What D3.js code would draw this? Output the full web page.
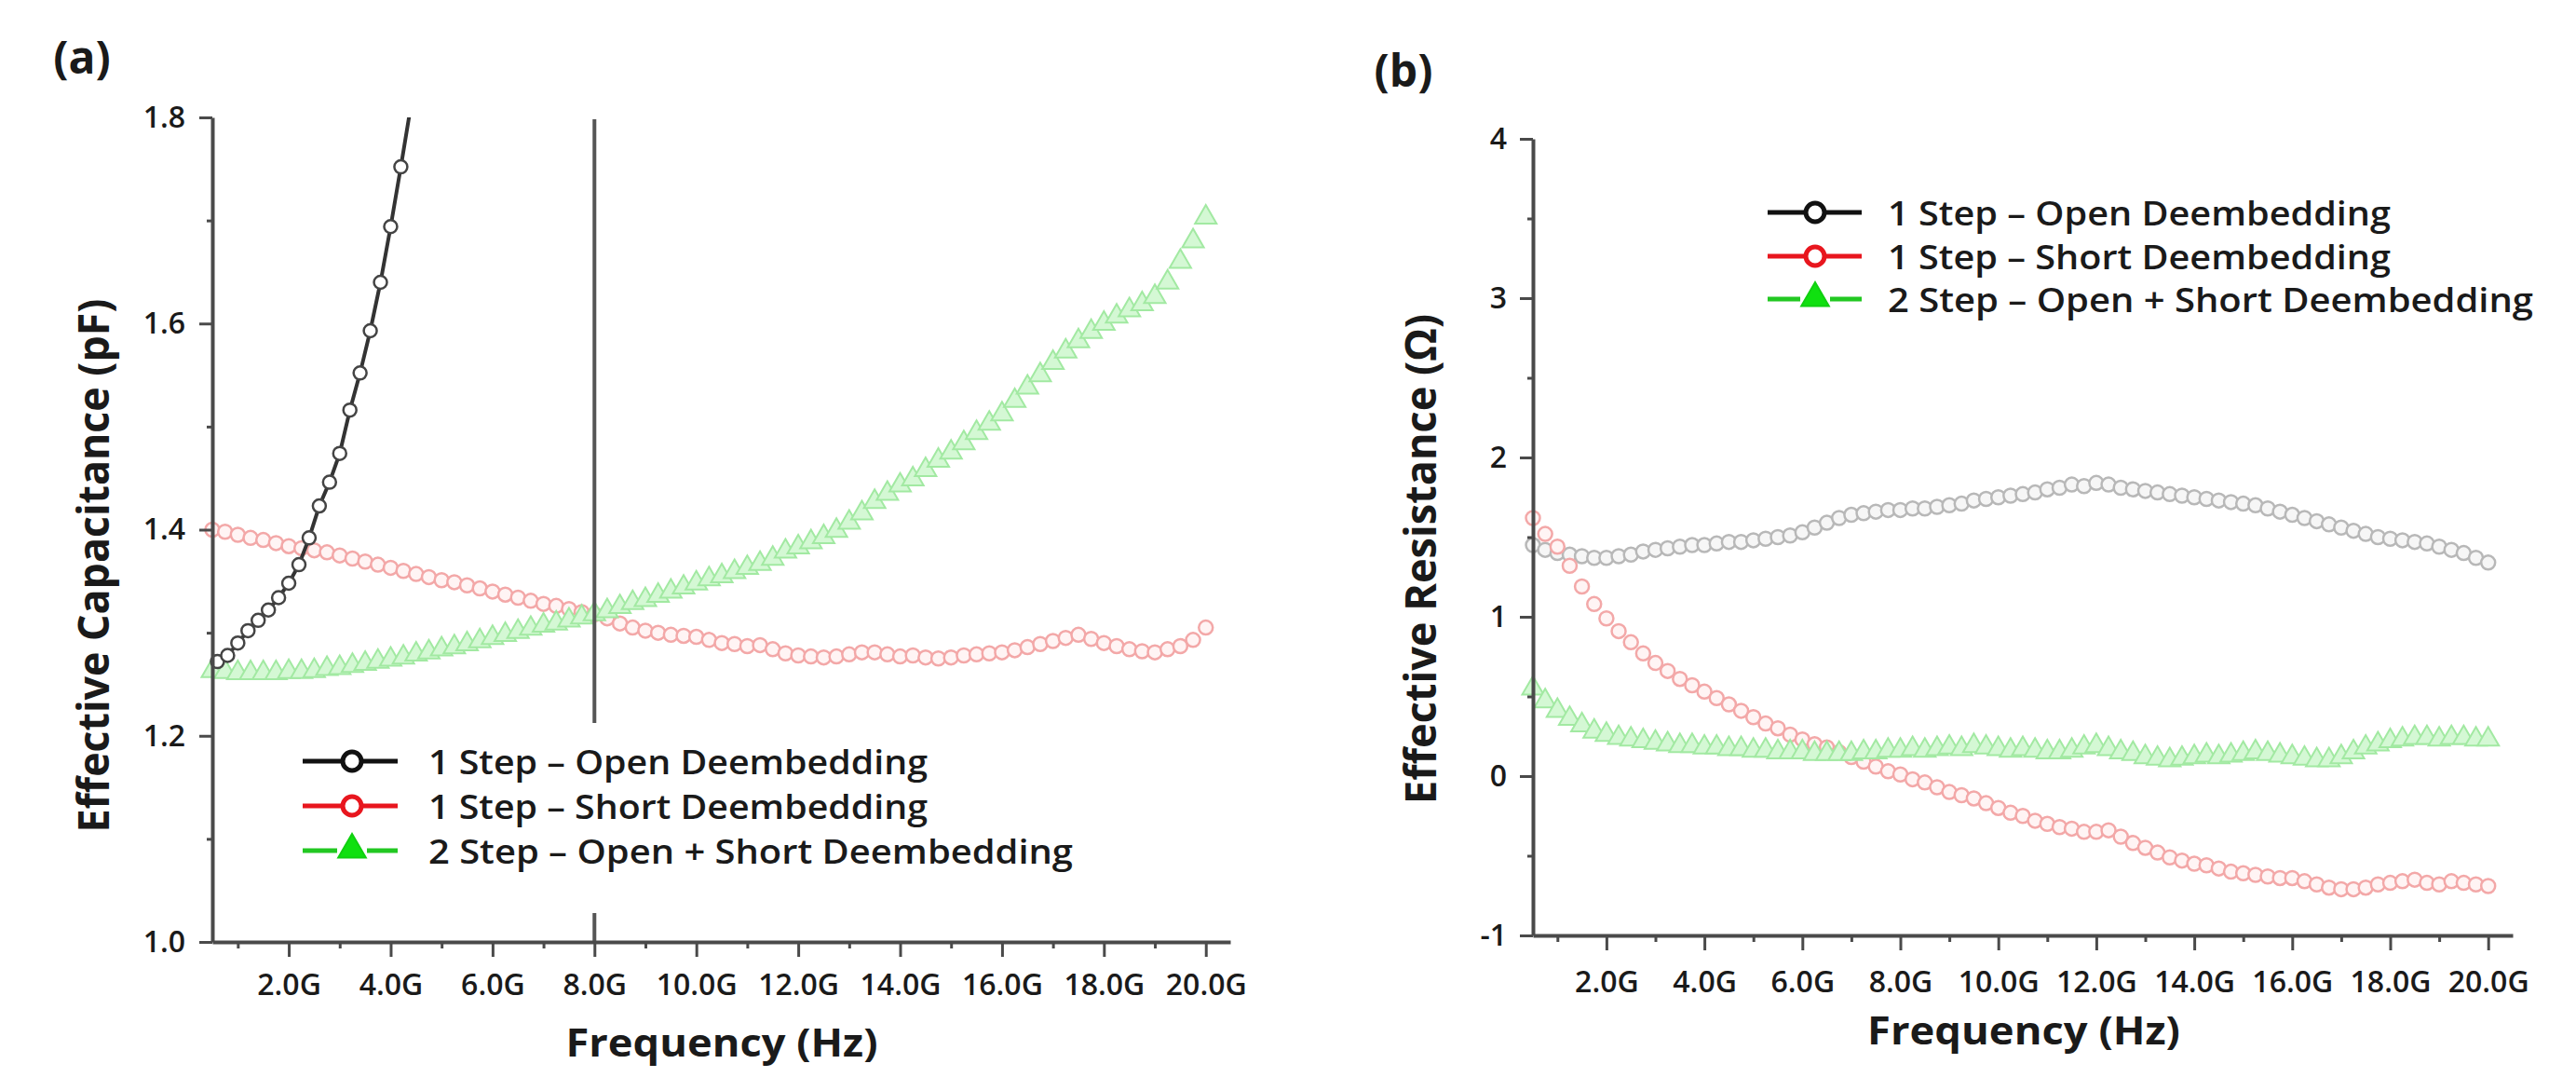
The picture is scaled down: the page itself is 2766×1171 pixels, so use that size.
<!DOCTYPE html>
<html><head><meta charset="utf-8">
<script src="https://cdn.jsdelivr.net/npm/d3@7"></script>
<style>
body{margin:0;background:#fff}
text{font-family:"Open Sans","DejaVu Sans",sans-serif;fill:#1a1a1a}
</style>
</head><body>
<svg id="c" width="2766" height="1171"></svg>
<script>
// ---------- DATA ----------
const freqGHz = [0.5,0.75,
 1,1.25,1.5,1.75, 2,2.25,2.5,2.75, 3,3.25,3.5,3.75, 4,4.25,4.5,4.75, 5,5.25,5.5,5.75,
 6,6.25,6.5,6.75, 7,7.25,7.5,7.75, 8,8.25,8.5,8.75, 9,9.25,9.5,9.75, 10,10.25,10.5,10.75,
 11,11.25,11.5,11.75, 12,12.25,12.5,12.75, 13,13.25,13.5,13.75, 14,14.25,14.5,14.75,
 15,15.25,15.5,15.75, 16,16.25,16.5,16.75, 17,17.25,17.5,17.75, 18,18.25,18.5,18.75,
 19,19.25,19.5,19.75, 20];

// (a) Effective capacitance (pF)
const openFreqA = [0.6,0.8,1.0,1.2,1.4,1.6,1.8,2.0,2.2,2.4,2.6,2.8,3.0,3.2,3.4,3.6,3.8,4.0,4.2,4.4];
const openCapA  = [1.272,1.278,1.290,1.302,1.312,1.322,1.334,1.348,1.366,1.392,1.423,1.446,1.474,1.516,1.552,1.593,1.640,1.694,1.752,1.812];
const shortCapA = [1.400,1.398,
 1.395,1.392,1.390,1.387, 1.384,1.382,1.380,1.378, 1.375,1.372,1.369,1.366, 1.363,1.360,1.357,1.354,
 1.351,1.349,1.346,1.343, 1.340,1.337,1.334,1.331, 1.328,1.326,1.323,1.320, 1.318,1.314,1.309,1.305,
 1.302,1.300,1.298,1.297, 1.296,1.293,1.290,1.289, 1.287,1.288,1.284,1.280, 1.278,1.277,1.276,1.277,
 1.279,1.281,1.281,1.279, 1.277,1.278,1.276,1.275, 1.276,1.278,1.279,1.280, 1.281,1.283,1.286,1.289,
 1.292,1.295,1.298,1.294, 1.290,1.287,1.284,1.282, 1.281,1.284,1.287,1.293, 1.305];
const openShortCapA = [1.263,1.262,
 1.261,1.261,1.261,1.261, 1.262,1.262,1.263,1.265, 1.266,1.268,1.270,1.272, 1.274,1.276,1.279,1.281,
 1.284,1.286,1.289,1.292, 1.295,1.298,1.301,1.304, 1.307,1.309,1.312,1.315, 1.318,1.321,1.325,1.329,
 1.332,1.336,1.340,1.344, 1.348,1.352,1.355,1.359, 1.363,1.367,1.372,1.379, 1.383,1.388,1.393,1.399,
 1.407,1.416,1.427,1.435, 1.443,1.449,1.458,1.467, 1.475,1.484,1.494,1.503, 1.512,1.525,1.538,1.550,
 1.562,1.573,1.583,1.592, 1.600,1.607,1.613,1.619, 1.626,1.640,1.660,1.680, 1.703];
const markerFreqA = [8.0];

// (b) Effective resistance (ohm)
const openResB = [1.45,1.42,
 1.40,1.39,1.38,1.37, 1.37,1.38,1.39,1.41, 1.42,1.43,1.44,1.45, 1.45,1.46,1.47,1.47,
 1.48,1.49,1.50,1.51, 1.53,1.56,1.59,1.62, 1.64,1.65,1.66,1.67, 1.67,1.68,1.68,1.69,
 1.70,1.71,1.73,1.74, 1.75,1.76,1.77,1.78, 1.80,1.81,1.83,1.82, 1.84,1.83,1.81,1.80,
 1.79,1.78,1.77,1.76, 1.75,1.74,1.73,1.72, 1.71,1.70,1.68,1.66, 1.64,1.62,1.60,1.58,
 1.56,1.54,1.52,1.50, 1.49,1.48,1.47,1.46, 1.44,1.42,1.40,1.37, 1.34];
const shortResB = [1.62,1.52,
 1.44,1.32,1.19,1.08, 0.99,0.91,0.84,0.77, 0.71,0.66,0.61,0.57, 0.53,0.49,0.45,0.41,
 0.37,0.33,0.30,0.26, 0.23,0.20,0.18,0.15, 0.12,0.09,0.06,0.03, 0.01,-0.02,-0.04,-0.07,
 -0.10,-0.12,-0.14,-0.17, -0.20,-0.23,-0.25,-0.28, -0.30,-0.32,-0.33,-0.35, -0.35,-0.34,-0.38,-0.42,
 -0.45,-0.48,-0.51,-0.53, -0.55,-0.56,-0.58,-0.60, -0.61,-0.62,-0.63,-0.64, -0.64,-0.66,-0.68,-0.70,
 -0.71,-0.71,-0.70,-0.68, -0.67,-0.66,-0.65,-0.67, -0.68,-0.66,-0.67,-0.68, -0.69];
const openShortResB = [0.55,0.47,
 0.41,0.36,0.32,0.28, 0.26,0.24,0.23,0.22, 0.21,0.20,0.19,0.19, 0.18,0.18,0.17,0.17,
 0.16,0.16,0.15,0.15, 0.15,0.14,0.14,0.14, 0.14,0.15,0.15,0.16, 0.16,0.17,0.16,0.17,
 0.18,0.17,0.19,0.18, 0.17,0.16,0.17,0.16, 0.15,0.15,0.16,0.18, 0.19,0.17,0.15,0.14,
 0.12,0.11,0.10,0.11, 0.12,0.13,0.12,0.13, 0.14,0.15,0.14,0.13, 0.12,0.11,0.10,0.10,
 0.12,0.15,0.18,0.20, 0.22,0.23,0.24,0.24, 0.23,0.24,0.24,0.23, 0.23];

// ticks & labels
const freqTicks = [2,4,6,8,10,12,14,16,18,20];
const freqTickLabels = ["2.0G","4.0G","6.0G","8.0G","10.0G","12.0G","14.0G","16.0G","18.0G","20.0G"];
const freqMinorTicks = [1,3,5,7,9,11,13,15,17,19];
const capTicks = [1.0,1.2,1.4,1.6,1.8];
const capTickLabels = ["1.0","1.2","1.4","1.6","1.8"];
const capMinorTicks = [1.1,1.3,1.5,1.7];
const resTicks = [-1,0,1,2,3,4];
const resTickLabels = ["-1","0","1","2","3","4"];
const resMinorTicks = [-0.5,0.5,1.5,2.5,3.5];
const seriesNames = ["1 Step \u2013 Open Deembedding","1 Step \u2013 Short Deembedding","2 Step \u2013 Open + Short Deembedding"];
const panelLabels = ["(a)","(b)"];
const xTitle = "Frequency (Hz)";
const yTitles = ["Effective Capacitance  (pF)","Effective Resistance  (\u03A9)"];

// ---------- DRAW ----------
const svg = d3.select("#c");
svg.append("rect").attr("width",2766).attr("height",1171).attr("fill","#fff");

const layouts = [
  {xr:[228,1321], yr:[1011,126], xd:[0.5,20.48], yd:[1.0,1.8], padX:18, padY:15,
   yT:capTicks, yL:capTickLabels, yM:capMinorTicks,
   lab:[88,62], ytPos:[100,607], ytLen:573, xtPos:[775,1134], xtLen:335,
   leg:{box:[310,776,855,204], lx:[325,427], mx:378, tx:460, rows:[817,865,913], tl:[536,536,692]}},
  {xr:[1646,2698], yr:[1004,149], xd:[0.5,20.5], yd:[-1,4], padX:22, padY:14,
   yT:resTicks, yL:resTickLabels, yM:resMinorTicks,
   lab:[1507,76], ytPos:[1525,600], ytLen:526, xtPos:[2173,1121], xtLen:336,
   leg:{box:null, lx:[1898,1999], mx:1949, tx:2027, rows:[228,275,321], tl:[540,540,693]}}
];

const sty = {
  openA:{stroke:"#444", fill:"#fff", sw:2.5, r:7},
  openB:{stroke:"#b8b8b8", fill:"#f6f6f6", sw:2.5, r:7.5},
  short:{stroke:"#f3a8a8", fill:"#fff4f4", sw:2.5, r:7.5},
  os:{stroke:"#a2e9a2", fill:"#d4f8d4", sw:2, size:230}
};

function drawAxes(g, L, x, y){
  const ax = g.append("g").attr("transform",`translate(0,${L.yr[0]})`)
    .call(d3.axisBottom(x).tickValues(freqTicks).tickFormat((d,i)=>freqTickLabels[i])
      .tickSize(16).tickSizeOuter(0).tickPadding(L.padX));
  const axm = g.append("g").attr("transform",`translate(0,${L.yr[0]})`)
    .call(d3.axisBottom(x).tickValues(freqMinorTicks).tickFormat("").tickSize(7).tickSizeOuter(0));
  axm.select(".domain").remove();
  const ay = g.append("g").attr("transform",`translate(${L.xr[0]},0)`)
    .call(d3.axisLeft(y).tickValues(L.yT).tickFormat((d,i)=>L.yL[i])
      .tickSize(14).tickSizeOuter(0).tickPadding(L.padY));
  const aym = g.append("g").attr("transform",`translate(${L.xr[0]},0)`)
    .call(d3.axisLeft(y).tickValues(L.yM).tickFormat("").tickSize(6).tickSizeOuter(0));
  aym.select(".domain").remove();
  [ax,axm,ay,aym].forEach(a=>{
    a.selectAll(".domain").attr("stroke","#4a4a4a").attr("stroke-width",4);
    a.selectAll(".tick line").attr("stroke","#4a4a4a").attr("stroke-width",3);
    a.selectAll(".tick text").attr("font-size",32).attr("font-weight",600)
      .attr("fill","#1a1a1a").style("font-family","'Open Sans',sans-serif");
  });
}

function circles(g, xs, ys, x, y, s){
  g.selectAll(null).data(xs.map((f,i)=>[f,ys[i]])).join("circle")
    .attr("cx",d=>x(d[0])).attr("cy",d=>y(d[1])).attr("r",s.r)
    .attr("fill",s.fill).attr("stroke",s.stroke).attr("stroke-width",s.sw);
}
function triangles(g, xs, ys, x, y, s){
  const sym = d3.symbol(d3.symbolTriangle, s.size);
  g.selectAll(null).data(xs.map((f,i)=>[f,ys[i]])).join("path")
    .attr("d",sym).attr("transform",d=>`translate(${x(d[0])},${y(d[1])})`)
    .attr("fill",s.fill).attr("stroke",s.stroke).attr("stroke-width",s.sw);
}

function legend(g, L){
  const lg = L.leg;
  if(lg.box) g.append("rect").attr("x",lg.box[0]).attr("y",lg.box[1]).attr("width",lg.box[2]).attr("height",lg.box[3]).attr("fill","#fff");
  const cols = ["#111111","#e8161e","#22c822"];
  seriesNames.forEach((name,i)=>{
    const yy = lg.rows[i];
    g.append("line").attr("x1",lg.lx[0]).attr("x2",lg.lx[1]).attr("y1",yy).attr("y2",yy)
      .attr("stroke",cols[i]).attr("stroke-width",5);
    if(i<2){
      g.append("circle").attr("cx",lg.mx).attr("cy",yy).attr("r",10)
        .attr("fill","#fff").attr("stroke",cols[i]).attr("stroke-width",5);
    } else {
      g.append("rect").attr("x",lg.mx-16).attr("y",yy-16).attr("width",32).attr("height",30).attr("fill","#fff");
      g.append("path").attr("d",d3.symbol(d3.symbolTriangle,380)())
        .attr("transform",`translate(${lg.mx},${yy-1})`)
        .attr("fill","#10e010").attr("stroke","#10d010").attr("stroke-width",2);
    }
    g.append("text").attr("x",lg.tx).attr("y",yy).attr("dy","0.38em")
      .attr("font-size",36).attr("font-weight",600)
      .attr("textLength",lg.tl[i]).attr("lengthAdjust","spacingAndGlyphs").text(name);
  });
}

function titles(g, L, k){
  g.append("text").attr("x",L.lab[0]).attr("y",L.lab[1]).attr("dy","0.36em").attr("text-anchor","middle")
    .attr("font-size",48).attr("font-weight",700).text(panelLabels[k]);
  g.append("text").attr("transform",`translate(${L.ytPos[0]},${L.ytPos[1]}) rotate(-90)`)
    .attr("text-anchor","middle").attr("dy","0.36em").attr("font-size",46).attr("font-weight",700)
    .attr("textLength",L.ytLen).attr("lengthAdjust","spacingAndGlyphs").text(yTitles[k]);
  g.append("text").attr("x",L.xtPos[0]).attr("y",L.xtPos[1]).attr("text-anchor","middle")
    .attr("font-size",42).attr("font-weight",700)
    .attr("textLength",L.xtLen).attr("lengthAdjust","spacingAndGlyphs").text(xTitle);
}

// Panel (a)
{
  const L = layouts[0];
  const x = d3.scaleLinear().domain(L.xd).range(L.xr);
  const y = d3.scaleLinear().domain(L.yd).range(L.yr);
  const g = svg.append("g");
  g.append("clipPath").attr("id","clipA").append("rect")
    .attr("x",L.xr[0]-20).attr("y",L.yr[1]).attr("width",L.xr[1]-L.xr[0]+40).attr("height",L.yr[0]-L.yr[1]+20);
  const plot = g.append("g").attr("clip-path","url(#clipA)");
  circles(plot, freqGHz, shortCapA, x, y, sty.short);
  triangles(plot, freqGHz, openShortCapA, x, y, sty.os);
  plot.append("path").datum(openFreqA.map((f,i)=>[f,openCapA[i]]))
    .attr("d",d3.line().x(d=>x(d[0])).y(d=>y(d[1])))
    .attr("fill","none").attr("stroke","#333").attr("stroke-width",4);
  circles(plot, openFreqA, openCapA, x, y, sty.openA);
  g.selectAll(null).data(markerFreqA).join("line")
    .attr("x1",d=>x(d)).attr("x2",d=>x(d)).attr("y1",L.yr[1]+2).attr("y2",L.yr[0])
    .attr("stroke","#555").attr("stroke-width",4);
  drawAxes(g, L, x, y);
  legend(g, L);
  titles(g, L, 0);
}
// Panel (b)
{
  const L = layouts[1];
  const x = d3.scaleLinear().domain(L.xd).range(L.xr);
  const y = d3.scaleLinear().domain(L.yd).range(L.yr);
  const g = svg.append("g");
  circles(g, freqGHz, openResB, x, y, sty.openB);
  circles(g, freqGHz, shortResB, x, y, sty.short);
  triangles(g, freqGHz, openShortResB, x, y, sty.os);
  drawAxes(g, L, x, y);
  legend(g, L);
  titles(g, L, 1);
}
</script>
</body></html>
